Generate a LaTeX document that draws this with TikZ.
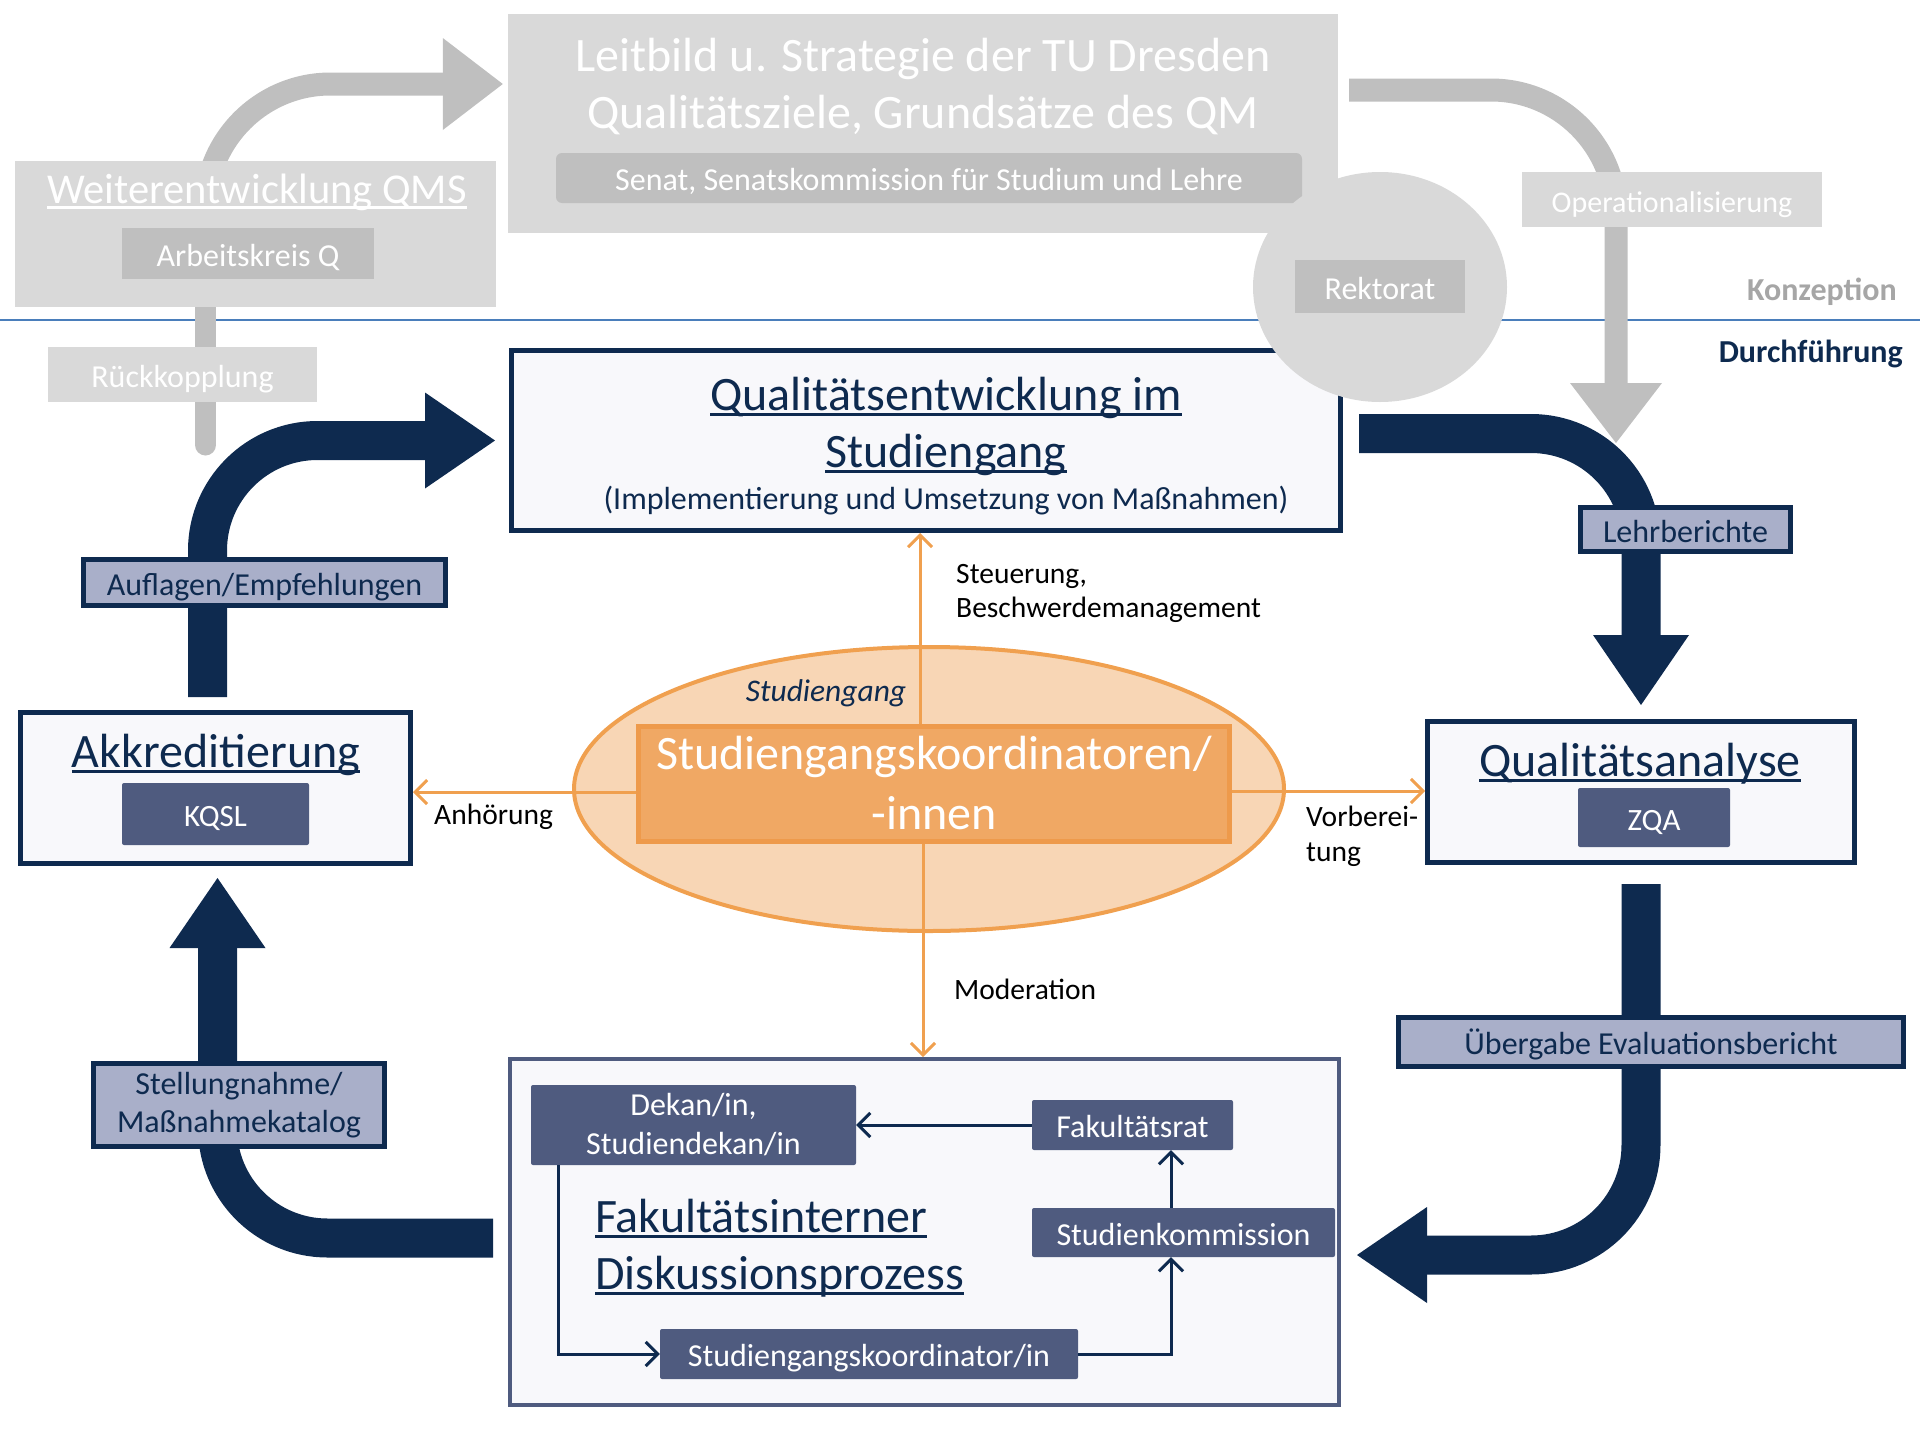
\documentclass[tikz,border=0pt]{standalone}
\usepackage{fontspec}
\setmainfont{Carlito}
\usetikzlibrary{arrows.meta,shapes.geometric,backgrounds}

\definecolor{navy}{HTML}{0E2A4F}
\definecolor{slate}{HTML}{4F5B7F}
\definecolor{lavender}{HTML}{A9AFC9}
\definecolor{paper}{HTML}{F8F8FB}
\definecolor{grayA}{HTML}{D9D9D9}
\definecolor{grayB}{HTML}{BFBFBF}
\definecolor{grayC}{HTML}{A6A6A6}
\definecolor{orangeline}{HTML}{F0A04F}
\definecolor{orangeborder}{HTML}{EE9A4B}
\definecolor{orangefill}{HTML}{F0A864}
\definecolor{peach}{HTML}{F8D6B5}
\definecolor{divider}{HTML}{4A7EBB}

\newcommand{\fsz}[2]{\fontsize{#1}{#2}\selectfont}
% underline sitting just under the baseline
\newcommand{\undl}[1]{\setbox0\hbox{#1}\rlap{\rule[-0.13em]{\wd0}{0.06em}}\box0}

\tikzset{
  oneline/.style={text height=25pt, text depth=0pt},
  graybox/.style={fill=grayA, inner sep=0pt},
  grayunit/.style={fill=grayB, inner sep=0pt, text=white, font=\fsz{32}{38}, oneline},
  mainbox/.style={draw=navy, line width=5pt, fill=paper, inner sep=0pt},
  unit/.style={fill=slate, inner sep=0pt, text=white, font=\fsz{32}{39}, align=center, rounded corners=2pt},
  tag/.style={draw=navy, line width=5pt, fill=lavender, inner sep=0pt, text=navy, font=\fsz{32}{38}, align=center},
  title/.style={anchor=base, inner sep=0pt, text=navy, font=\fsz{48}{57}},
  note/.style={anchor=base west, inner sep=0pt, text=black, font=\fsz{29.5}{35}},
  blockarrow/.style={navy, line width=39pt, rounded corners=110pt, -{Triangle[length=70pt,width=96pt,line width=0pt]}},
  grayarrow/.style={grayB, line width=23pt, rounded corners=125pt, -{Triangle[length=60pt,width=92pt,line width=0pt]}},
  orangearrow/.style={orangeline, line width=3pt, -{Straight Barb[length=12pt,width=24pt]}},
  flow/.style={navy, line width=3pt, -{Straight Barb[length=12pt,width=24pt]}},
}

\begin{document}
\begin{tikzpicture}[x=1pt,y=-1pt]
\useasboundingbox (0,0) rectangle (1920,1440);

% --- Konzeption ---
\node[graybox, minimum width=830pt, minimum height=219pt] (leit) at (923,123.5) {};
\node[anchor=base, inner sep=0pt, text=white, font=\fsz{48}{57}] (leitA) at (923,71) {Leitbild u. Strategie der TU Dresden};
\node[anchor=base, inner sep=0pt, text=white, font=\fsz{48}{57}] (leitB) at (923,128) {Qualitätsziele, Grundsätze des QM};
\node[grayunit, rounded corners=6pt, minimum width=746pt, minimum height=50pt] (senat) at (929,178) {Senat, Senatskommission für Studium und Lehre};

\node[graybox, minimum width=481pt, minimum height=146pt] (wqms) at (255.5,234) {};
\node[anchor=base, inner sep=0pt, text=white, font=\fsz{42.5}{50}] (wqmsT) at (257,203) {\undl{Weiterentwicklung QMS}};
\node[grayunit, minimum width=252pt, minimum height=51pt] (akq) at (248,253.5) {Arbeitskreis Q};

\node[graybox, oneline, text=white, font=\fsz{32}{38}, minimum width=269pt, minimum height=55pt] (rueck) at (182.5,374.5) {Rückkopplung};
\node[graybox, oneline, text=white, font=\fsz{30}{36}, minimum width=300pt, minimum height=55pt] (opl) at (1672,199.5) {Operationalisierung};
\coordinate (optip) at (1616,443);
\coordinate (rkEnd) at (205.5,445);
\coordinate (divL) at (0,320);
\coordinate (divR) at (1920,320);

\begin{pgfonlayer}{background}
  \draw[divider, line width=2pt] (divL) -- (divR);
  \draw[grayarrow] ([xshift=-50pt]wqms.center) |- ([xshift=-5pt,yshift=39.5pt]leit.west);
  \draw[grayarrow] ([xshift=11pt,yshift=33.5pt]leit.east) -| (optip);
  \draw[grayB, line width=21pt, line cap=round] ([xshift=-50pt]wqms.south) -- (rkEnd);
\end{pgfonlayer}

\node[anchor=base east, inner sep=0pt, text=grayC, font=\bfseries\fsz{32}{38}] (konz) at (1897,300) {Konzeption};
\node[anchor=base east, inner sep=0pt, text=navy, font=\bfseries\fsz{32}{38}] (durch) at (1903,362) {Durchführung};

% --- Durchfuehrung ---
\node[mainbox, minimum width=829pt, minimum height=180pt] (qe) at (926,440.5) {};
\node[title] (qeA) at (946,410) {\undl{Qualitätsentwicklung im}};
\node[title] (qeB) at (946,467) {\undl{Studiengang}};
\node[anchor=base, inner sep=0pt, text=navy, font=\fsz{32}{38}] (qeC) at (946,509) {(Implementierung und Umsetzung von Maßnahmen)};

\node[ellipse, fill=grayA, minimum width=254pt, minimum height=230pt, inner sep=0pt] (rekt) at (1380,287) {};
\node[grayunit, minimum width=170pt, minimum height=53pt] (rektT) at (1380,286.5) {Rektorat};

\node[mainbox, minimum width=390pt, minimum height=151pt] (akk) at (215.5,788) {};
\node[title] (akkT) at (216,767) {\undl{Akkreditierung}};
\node[unit, oneline, minimum width=187pt, minimum height=62pt, font=\fsz{31}{36}] (kqsl) at (215.5,814) {KQSL};

\node[mainbox, minimum width=427pt, minimum height=141pt] (qa) at (1641,792) {};
\node[title] (qaT) at (1640,776) {\undl{Qualitätsanalyse}};
\node[unit, oneline, minimum width=152pt, minimum height=59pt, font=\fsz{31}{36}] (zqa) at (1654,817.5) {ZQA};

\node[ellipse, fill=peach, draw=orangeline, line width=4pt, minimum width=710pt, minimum height=284pt, inner sep=0pt] (sg) at (929,789) {};
\node[anchor=base, inner sep=0pt, text=navy, font=\itshape\fsz{31.5}{37}] (sgT) at (826,701) {Studiengang};
\node[fill=orangefill, draw=orangeborder, line width=5pt, minimum width=591pt, minimum height=115pt, inner sep=0pt] (sgk) at (934,784) {};
\node[anchor=base, inner sep=0pt, text=white, font=\fsz{48}{57}] (sgkA) at (934,769) {Studiengangskoordinatoren/};
\node[anchor=base, inner sep=0pt, text=white, font=\fsz{48}{57}] (sgkB) at (934,829) {-innen};

\node[draw=slate, line width=4pt, fill=paper, minimum width=829pt, minimum height=346pt, inner sep=0pt] (fak) at (924.5,1232) {};
\node[unit, minimum width=325pt, minimum height=80pt] (dekan) at (693.5,1125) {Dekan/in,\\Studiendekan/in};
\node[unit, oneline, minimum width=201pt, minimum height=50pt] (frat) at (1132.5,1125) {Fakultätsrat};
\node[unit, oneline, minimum width=303pt, minimum height=49pt] (skom) at (1183.5,1232.5) {Studienkommission};
\node[unit, oneline, minimum width=418pt, minimum height=50pt] (sgko) at (869,1354) {Studiengangskoordinator/in};
\node[title, anchor=base west] (fakA) at (595,1232) {\undl{Fakultätsinterner}};
\node[title, anchor=base west] (fakB) at (595,1289) {\undl{Diskussionsprozess}};

% inside the faculty
\draw[flow] (frat.west) -- (frat.west -| dekan.east);
\coordinate (kx) at ([xshift=38.5pt]frat.south);
\draw[flow] (kx |- skom.north) -- (kx);
\draw[flow] (sgko.east) -| (kx |- skom.south);
\draw[flow] ([xshift=-135.5pt]dekan.south) |- (sgko.west);

% orange connectors
\coordinate (oTop) at ([xshift=-14pt]sgk.north);
\coordinate (oBot) at ([xshift=-11pt]sgk.south);
\coordinate (oLeft) at ([yshift=-8pt]sgk.west);
\coordinate (oRight) at ([yshift=-7pt]sgk.east);
\draw[orangearrow] (oTop) -- (oTop |- qe.south);
\draw[orangearrow] (oBot) -- (oBot |- fak.north);
\draw[orangearrow] (oLeft) -- (oLeft -| akk.east);
\draw[orangearrow] (oRight) -- (oRight -| qa.west);

\node[note] (steuer) at (956,583) {Steuerung,};
\node[note] (beschw) at (956,617) {Beschwerdemanagement};
\node[note] (anh) at (434,824) {Anhörung};
\node[note] (vorb) at (1306,826) {Vorberei-};
\node[note] (tung) at (1306,861) {tung};
\node[note] (moder) at (954,999) {Moderation};

% the big cycle
\draw[blockarrow] ([xshift=-8pt,yshift=13pt]akk.north) |- ([xshift=-14pt]qe.west);
\draw[blockarrow] ([xshift=16pt,yshift=7pt]qe.east) -| ([yshift=14pt]qa.north);
\draw[blockarrow] ([yshift=-19pt]qa.south) |- ([xshift=16pt,yshift=-23pt]fak.east);
\draw[blockarrow] ([xshift=-15pt,yshift=-6pt]fak.west) -| ([xshift=2pt,yshift=-12pt]akk.south);

\node[tag, oneline, minimum width=362pt, minimum height=46pt] (auflagen) at (264.5,582.5) {Auflagen/Empfehlungen};
\node[tag, oneline, minimum width=210pt, minimum height=44pt] (lehrb) at (1685.5,529.5) {Lehrberichte};
\node[tag, oneline, minimum width=505pt, minimum height=49pt] (ueberg) at (1651,1042) {Übergabe Evaluationsbericht};
\node[tag, minimum width=291pt, minimum height=83pt] (stell) at (239,1105) {Stellungnahme/\\Maßnahmekatalog};
\end{tikzpicture}
\end{document}
